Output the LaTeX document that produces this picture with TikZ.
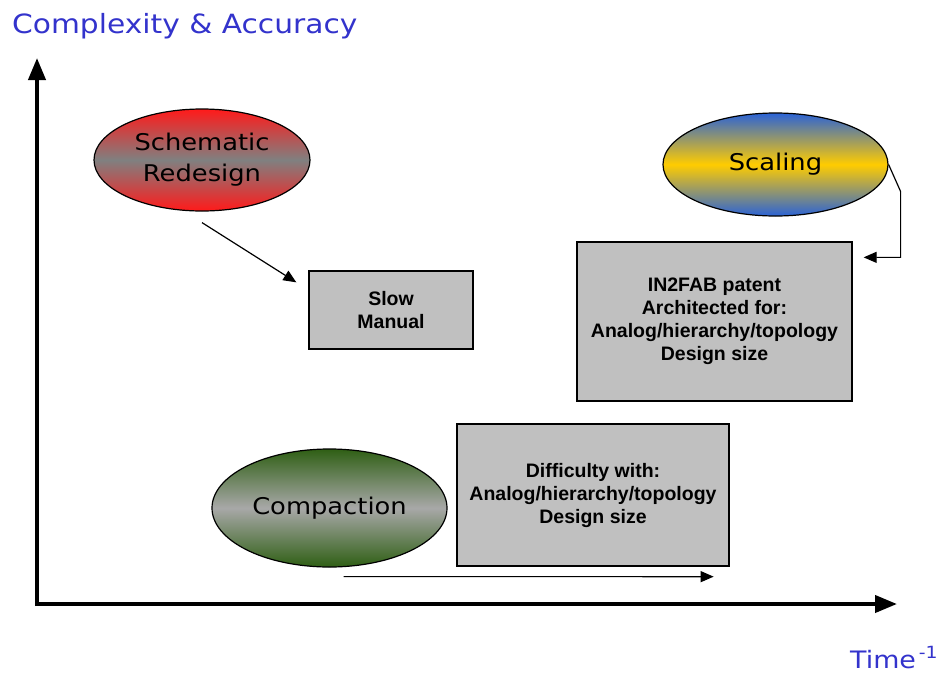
\documentclass[tikz,border=0pt]{standalone}
\usepackage{fontspec}
\setmainfont{DejaVu Sans}
\newfontfamily\widefont[FakeStretch=1.12]{DejaVu Sans}
\newfontfamily\arialfont{Liberation Sans}
\usetikzlibrary{shapes.geometric,arrows.meta,positioning,calc}
\definecolor{labelblue}{HTML}{3333CC}
\definecolor{boxgray}{HTML}{C0C0C0}
\definecolor{redesignred}{HTML}{FF1A1A}
\definecolor{redesigngray}{HTML}{808080}
\definecolor{scaleblue}{HTML}{2B63D6}
\definecolor{scalegold}{HTML}{FFCC00}
\definecolor{compgreen}{HTML}{2F5F14}
\definecolor{compgray}{HTML}{A8A8A8}

\tikzset{
  blob/.style={ellipse,draw=black,line width=1.2pt,inner sep=0pt,align=center,
    font=\widefont\fontsize{23}{31}\selectfont},
  notebox/.style={draw=black,line width=1.3pt,fill=boxgray,align=center,
    font=\arialfont\bfseries\fontsize{19.5}{23}\selectfont},
  axis/.style={line width=4pt,-{Triangle[length=22pt,width=17pt]}},
  flow/.style={line width=1.2pt,-{Triangle[length=13pt,width=11pt]}},
  axislabel/.style={inner sep=0pt,anchor=base west,text=labelblue},
}

\begin{document}
\begin{tikzpicture}[x=1pt,y=-1pt]
  \useasboundingbox (0,0) rectangle (951,673);

  % axes
  \coordinate (origin) at (37,604);
  \coordinate (ytip) at (37,58);
  \coordinate (xtip) at (897,604);
  \draw[axis] ([yshift=-2pt]origin) -- (ytip);
  \draw[axis] ([xshift=-2pt]origin) -- (xtip);
  \node[axislabel,font=\widefont\fontsize{26.5}{30}\selectfont] (ylabel) at (12,33) {Complexity \& Accuracy};
  \node[axislabel,font=\widefont\fontsize{24}{28}\selectfont] (xlabel) at (850,668) {Time\textsuperscript{\,-1}};

  % approaches
  \node[blob,minimum width=216pt,minimum height=102pt,top color=redesignred,bottom color=redesignred,middle color=redesigngray] (redesign) at (202,160) {Schematic\\Redesign};
  \node[blob,minimum width=225pt,minimum height=103pt,top color=scaleblue,bottom color=scaleblue,middle color=scalegold] (scaling) at (775.5,164.5) {Scaling};
  \node[blob,minimum width=235pt,minimum height=118pt,top color=compgreen,bottom color=compgreen,middle color=compgray] (compaction) at (329.5,508) {Compaction};

  % notes
  \node[notebox,minimum width=164pt,minimum height=78pt] (slow) at (391,310) {Slow\\Manual};
  \node[notebox,minimum width=275pt,minimum height=159pt] (in2fab) at (714.5,321.5) {IN2FAB patent\\Architected for:\\Analog/hierarchy/topology\\Design size};
  \node[notebox,minimum width=272pt,minimum height=142pt] (difficulty) at (593,495) {Difficulty with:\\Analog/hierarchy/topology\\Design size};

  % connectors
  \draw[flow] ([yshift=-11pt]redesign.south) -- ([xshift=-12pt,yshift=-12pt]slow.north west);
  \draw[flow] (scaling.east) -- ([xshift=12pt,yshift=-27pt]scaling.east) |- ([xshift=11pt,yshift=-16pt]in2fab.north east);
  \draw[flow] ([xshift=14pt,yshift=-9pt]compaction.south) -- ([xshift=-16pt,yshift=-10pt]difficulty.south east);
\end{tikzpicture}
\end{document}
